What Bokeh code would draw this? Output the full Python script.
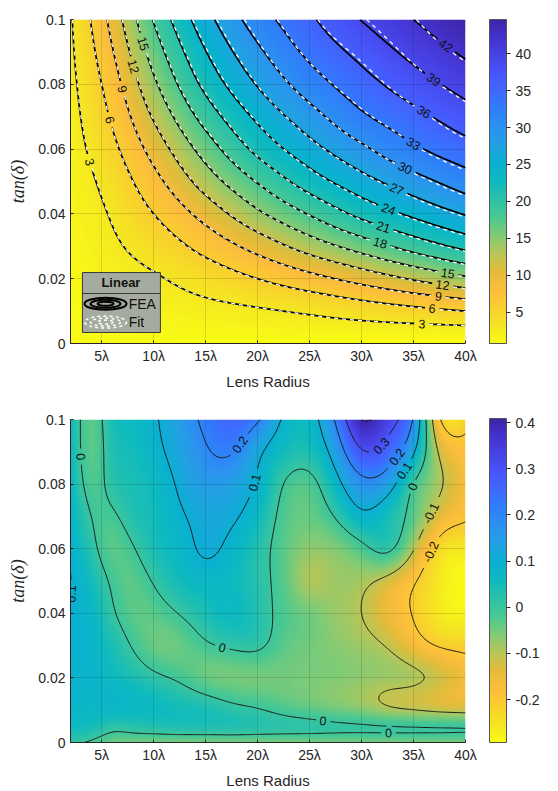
import numpy as np
import contourpy
from bokeh.plotting import figure
from bokeh.models import LinearColorMapper, ColorBar, FixedTicker, Label
from bokeh.layouts import column
from bokeh.embed import file_html
from bokeh.resources import INLINE
from bokeh.core.properties import value

# ---------------- panel (a): beam loss (dB) from FEA ----------------
radius_a = [2, 5, 10, 15, 20, 25, 30, 35, 40]
tan_a = [0.0, 0.005, 0.01, 0.02, 0.03, 0.04, 0.05, 0.06, 0.07, 0.08, 0.09, 0.10]
loss_t000 = [0.8, 0.8, 0.8, 0.8, 0.8, 0.8, 0.8, 0.8, 0.8]
loss_t005 = [0.9, 1.04, 1.28, 1.52, 1.76, 2.0, 2.24, 2.47, 2.71]
loss_t010 = [0.99, 1.28, 1.76, 2.24, 2.71, 3.35, 4.24, 5.12, 6.0]
loss_t020 = [1.18, 1.76, 2.71, 4.24, 6.0, 8.0, 10.1, 12.3, 14.4]
loss_t030 = [1.37, 2.24, 4.24, 7.0, 10.1, 13.35, 16.3, 19.2, 21.8]
loss_t040 = [1.57, 2.71, 6.0, 10.1, 14.4, 18.2, 21.8, 24.6, 27.2]
loss_t050 = [1.76, 3.35, 8.0, 13.35, 18.2, 22.5, 25.9, 28.8, 31.5]
loss_t060 = [1.95, 4.24, 10.1, 16.3, 21.8, 25.9, 29.4, 32.5, 34.8]
loss_t070 = [2.14, 5.12, 12.3, 19.2, 24.6, 28.8, 32.5, 35.1, 37.6]
loss_t080 = [2.33, 6.0, 14.4, 21.8, 27.2, 31.5, 34.8, 37.6, 40.2]
loss_t090 = [2.52, 7.0, 16.3, 23.9, 29.4, 33.7, 36.9, 39.9, 42.5]
loss_t100 = [2.71, 8.0, 18.2, 25.9, 31.5, 35.5, 39.1, 42.0, 44.6]
loss_levels = [3, 6, 9, 12, 15, 18, 21, 24, 27, 30, 33, 36, 39, 42]
loss_range = [0.8, 44.6]
loss_cbar_ticks = [5, 10, 15, 20, 25, 30, 35, 40]

# ---------------- panel (b): residuals (dB), FEA minus fit ----------------
radius_b = [2, 4, 6, 8, 10, 12.5, 15, 17.5, 20, 22.5, 25, 27.5, 30, 32.5, 35, 37.5, 40]
tan_b = [0.0, 0.004, 0.01, 0.02, 0.03, 0.04, 0.05, 0.06, 0.07, 0.08, 0.09, 0.10]
res_t000 = [0.02, -0.01, -0.04, -0.05, -0.05, -0.05, -0.05, -0.05, -0.05, -0.05, -0.05, -0.05, -0.05, -0.05, -0.05, -0.05, -0.05]
res_t004 = [0.05, 0.04, 0.01, 0.015, 0.02, 0.025, 0.025, 0.025, 0.02, 0.015, 0.012, 0.008, 0.006, 0.005, 0.004, 0.003, 0.002]
res_t010 = [0.08, 0.07, 0.07, 0.065, 0.06, 0.05, 0.04, 0.02, 0.005, -0.015, -0.03, -0.045, -0.06, -0.085, -0.098, -0.11, -0.118]
res_t020 = [0.09, 0.08, 0.06, 0.04, 0.015, -0.01, -0.04, -0.05, -0.05, -0.05, -0.055, -0.06, -0.07, -0.08, -0.09, -0.12, -0.16]
res_t030 = [0.097, 0.08, 0.04, -0.005, -0.04, -0.04, -0.01, 0.01, 0.01, -0.03, -0.05, -0.065, -0.08, -0.105, -0.16, -0.205, -0.22]
res_t040 = [0.099, 0.07, 0.01, -0.03, -0.03, 0.003, 0.04, 0.06, 0.03, -0.02, -0.05, -0.075, -0.10, -0.15, -0.205, -0.26, -0.28]
res_t050 = [0.1015, 0.05, -0.01, -0.03, 0.005, 0.05, 0.07, 0.06, 0.025, -0.03, -0.09, -0.08, -0.085, -0.12, -0.19, -0.26, -0.29]
res_t060 = [0.092, 0.02, -0.03, -0.005, 0.04, 0.07, 0.11, 0.08, 0.03, -0.03, -0.07, -0.06, -0.02, 0.012, -0.095, -0.23, -0.26]
res_t070 = [0.08, 0.0, -0.01, 0.03, 0.05, 0.09, 0.12, 0.11, 0.06, -0.02, -0.04, 0.005, 0.08, 0.05, -0.03, -0.14, -0.19]
res_t080 = [0.07, -0.02, 0.02, 0.04, 0.06, 0.11, 0.15, 0.14, 0.09, 0.0, -0.02, 0.07, 0.17, 0.14, 0.0, -0.09, -0.17]
res_t090 = [0.06, -0.03, 0.03, 0.05, 0.08, 0.13, 0.19, 0.205, 0.12, 0.05, 0.04, 0.14, 0.29, 0.26, 0.11, -0.11, -0.18]
res_t100 = [0.06, -0.03, 0.04, 0.06, 0.09, 0.15, 0.22, 0.26, 0.21, 0.09, 0.07, 0.21, 0.40, 0.34, 0.19, -0.19, -0.22]
res_levels = [-0.2, -0.1, 0.0, 0.1, 0.2, 0.3, 0.4]
res_range = [-0.293, 0.409]
res_cbar_ticks = [-0.2, -0.1, 0.0, 0.1, 0.2, 0.3, 0.4]
res_cbar_labels = ["-0.2", "-0.1", "0", "0.1", "0.2", "0.3", "0.4"]

# ---------------- axes ticks ----------------
radius_ticks = [5, 10, 15, 20, 25, 30, 35, 40]
radius_tick_labels = ["5λ", "10λ", "15λ", "20λ", "25λ", "30λ", "35λ", "40λ"]
tan_ticks = [0, 0.02, 0.04, 0.06, 0.08, 0.1]
tan_tick_labels = ["0", "0.02", "0.04", "0.06", "0.08", "0.1"]

# contour label anchors (level, radius, tan)
loss_label_spots = [(3, 3.5, 0.0556), (3, 35.85, 0.0062), (6, 5.37, 0.0688), (6, 36.8, 0.0111),
                    (9, 6.6, 0.0781), (9, 37.4, 0.0145), (12, 7.6, 0.0852), (12, 37.8, 0.0182),
                    (15, 8.7, 0.092), (15, 38.25, 0.0216), (18, 31.8, 0.0309), (21, 32.1, 0.0358),
                    (24, 32.6, 0.0414), (27, 33.5, 0.0481), (30, 34.2, 0.0543), (33, 35.0, 0.0617),
                    (36, 35.9, 0.071), (39, 36.9, 0.0812), (42, 38.25, 0.0926)]
res_label_spots = [(0.0, 3.25, 0.0885), (0.0, 16.6, 0.0292), (0.2, 18.6, 0.0916), (0.1, 19.6, 0.0807),
                   (0.3, 32.0, 0.0916), (0.2, 33.25, 0.0885), (0.1, 34.0, 0.0845), (0.0, 35.0, 0.0792),
                   (-0.1, 35.9, 0.072), (-0.2, 36.6, 0.059), (0.0, 26.3, 0.0059), (0.0, 32.6, 0.0022),
                   (0.1, 2.1, 0.046)]

# parula colour stops (MATLAB)
parula_stops = ["#3e26a8", "#4433ce", "#4744e8", "#4757fa", "#3e6afe", "#2f80fa", "#2b92f0",
                "#21a2e2", "#0ab0d1", "#0dbac0", "#2cc2a8", "#4ac891", "#7fcb76", "#b7c658",
                "#e2bc3a", "#fdbd3c", "#f9cf2f", "#f5e423", "#f9fb15"]


def make_palette(stops, n=256):
    rgb = np.array([[int(s[i:i + 2], 16) for i in (1, 3, 5)] for s in stops], float)
    pos = np.linspace(0, 1, len(stops))
    q = np.linspace(0, 1, n)
    out = np.stack([np.interp(q, pos, rgb[:, k]) for k in range(3)], axis=1)
    return ["#%02x%02x%02x" % tuple(int(round(v)) for v in c) for c in out]


palette_rev = make_palette(parula_stops)[::-1]


def pchip(xk, yk, xq):
    xk = np.asarray(xk, float); yk = np.asarray(yk, float)
    h = np.diff(xk); d = np.diff(yk) / h
    n = len(xk); m = np.zeros(n)
    for i in range(1, n - 1):
        if d[i - 1] * d[i] > 0:
            w1 = 2 * h[i] + h[i - 1]; w2 = h[i] + 2 * h[i - 1]
            m[i] = (w1 + w2) / (w1 / d[i - 1] + w2 / d[i])

    def ends(h0, h1, d0, d1):
        s = ((2 * h0 + h1) * d0 - h0 * d1) / (h0 + h1)
        if np.sign(s) != np.sign(d0):
            s = 0.0
        elif np.sign(d0) != np.sign(d1) and abs(s) > abs(3 * d0):
            s = 3 * d0
        return s
    m[0] = ends(h[0], h[1], d[0], d[1]); m[-1] = ends(h[-1], h[-2], d[-1], d[-2])
    idx = np.clip(np.searchsorted(xk, xq, side="right") - 1, 0, n - 2)
    s = (xq - xk[idx]) / h[idx]; hh = h[idx]
    return ((2 * s**3 - 3 * s**2 + 1) * yk[idx] + (s**3 - 2 * s**2 + s) * hh * m[idx]
            + (-2 * s**3 + 3 * s**2) * yk[idx + 1] + (s**3 - s**2) * hh * m[idx + 1])


def spline_matrix(xk, xq):
    xk = np.asarray(xk, float); n = len(xk); h = np.diff(xk)
    A = np.zeros((n - 2, n - 2)); D = np.zeros((n - 2, n))
    for i in range(1, n - 1):
        r = i - 1
        if r > 0:
            A[r, r - 1] = h[i - 1]
        A[r, r] = 2 * (h[i - 1] + h[i])
        if r < n - 3:
            A[r, r + 1] = h[i]
        D[r, i - 1] = 6 / h[i - 1]; D[r, i] = -6 / h[i - 1] - 6 / h[i]; D[r, i + 1] = 6 / h[i]
    M = np.zeros((n, n)); M[1:-1] = np.linalg.solve(A, D)
    idx = np.clip(np.searchsorted(xk, xq, side="right") - 1, 0, n - 2)
    s = (xq - xk[idx]) / h[idx]; hi = h[idx]
    W = np.zeros((len(xq), n)); rows = np.arange(len(xq))
    W[rows, idx] += 1 - s; W[rows, idx + 1] += s
    c0 = hi**2 / 6 * ((1 - s)**3 - (1 - s)); c1 = hi**2 / 6 * (s**3 - s)
    W += c0[:, None] * M[idx] + c1[:, None] * M[idx + 1]
    return W


# ---------------- smooth rendering grids ----------------
xf = np.linspace(2, 40, 381)
yf = np.linspace(0, 0.1, 201)
LOSS = np.array([loss_t000, loss_t005, loss_t010, loss_t020, loss_t030, loss_t040, loss_t050,
                 loss_t060, loss_t070, loss_t080, loss_t090, loss_t100])
RES = np.array([res_t000, res_t004, res_t010, res_t020, res_t030, res_t040, res_t050,
                res_t060, res_t070, res_t080, res_t090, res_t100])
tmp = np.array([pchip(radius_a, row, xf) for row in LOSS])
fea_f = np.array([pchip(tan_a, tmp[:, j], yf) for j in range(len(xf))]).T
res_f = spline_matrix(tan_b, yf) @ RES @ spline_matrix(radius_b, xf).T
fit_f = fea_f - res_f

SX = 395 / 38.0      # px per radius unit
SY_A = 324 / 0.1     # px per tan unit (top)
SY_B = 323 / 0.1     # px per tan unit (bottom)
TXT = "#262626"
SANS = "Liberation Sans"


def contour_lines(z, levels):
    cg = contourpy.contour_generator(xf, yf, z)
    return {i: [np.asarray(a) for a in cg.lines(lev) if len(a) > 1] for i, lev in enumerate(levels)}


def find_labels(lines, levels, spots, sy, fmt):
    labels, cuts = [], []
    for lev, x0, y0 in spots:
        k = levels.index(lev)
        best = None
        for arr in lines.get(k, []):
            d = ((arr[:, 0] - x0) * SX) ** 2 + ((arr[:, 1] - y0) * sy) ** 2
            i = int(np.argmin(d))
            if best is None or d[i] < best[0]:
                best = (d[i], arr, i)
        if best is None or best[0] > 40 ** 2:
            continue
        _, arr, i = best
        j0, j1 = max(i - 5, 0), min(i + 5, len(arr) - 1)
        ang = np.arctan2((arr[j1, 1] - arr[j0, 1]) * sy, (arr[j1, 0] - arr[j0, 0]) * SX)
        if ang > np.pi / 2:
            ang -= np.pi
        if ang <= -np.pi / 2:
            ang += np.pi
        txt = fmt(lev)
        labels.append((arr[i, 0], arr[i, 1], ang, txt))
        cuts.append((arr[i, 0], arr[i, 1], 3.4 * len(txt) + 3.5))
    return labels, cuts


def cut_lines(lines, cuts, sy):
    xs, ys = [], []
    for k in lines:
        for arr in lines[k]:
            keep = np.ones(len(arr), bool)
            for cx, cy, r in cuts:
                keep &= np.hypot((arr[:, 0] - cx) * SX, (arr[:, 1] - cy) * sy) > r
            start = None
            for i, ok in enumerate(list(keep) + [False]):
                if ok and start is None:
                    start = i
                elif not ok and start is not None:
                    if i - start > 1:
                        xs.append(list(arr[start:i, 0])); ys.append(list(arr[start:i, 1]))
                    start = None
    return xs, ys


def base_fig(height, top, bottom):
    p = figure(width=558, height=height, x_range=(2, 40), y_range=(0, 0.1),
               output_backend="svg", toolbar_location=None,
               min_border_left=70, min_border_right=93, min_border_top=top, min_border_bottom=bottom)
    p.outline_line_color = None
    p.background_fill_color = "white"
    p.border_fill_color = "white"
    p.xaxis.ticker = FixedTicker(ticks=radius_ticks)
    p.xaxis.major_label_overrides = {t: l for t, l in zip(radius_ticks, radius_tick_labels)}
    p.yaxis.ticker = FixedTicker(ticks=tan_ticks)
    p.yaxis.major_label_overrides = {t: l for t, l in zip(tan_ticks, tan_tick_labels)}
    for ax in (p.xaxis, p.yaxis):
        ax.axis_line_color = TXT
        ax.major_tick_line_color = TXT
        ax.major_tick_in = 3
        ax.major_tick_out = 0
        ax.minor_tick_line_color = None
        ax.major_label_text_font = SANS
        ax.major_label_text_font_size = "14px"
        ax.major_label_text_color = TXT
        ax.axis_label_text_color = TXT
    p.xaxis.axis_label = "Lens Radius"
    p.xaxis.axis_label_text_font = SANS
    p.xaxis.axis_label_text_font_size = "15px"
    p.xaxis.axis_label_text_font_style = "normal"
    p.xaxis.axis_label_standoff = 6
    p.xaxis.major_label_standoff = 4
    p.yaxis.axis_label = "tan(δ)"
    p.yaxis.axis_label_text_font = "Liberation Serif"
    p.yaxis.axis_label_text_font_size = "18px"
    p.yaxis.axis_label_text_font_style = "italic"
    p.yaxis.axis_label_standoff = 7
    p.yaxis.major_label_standoff = 5
    p.grid.grid_line_color = "black"
    p.grid.grid_line_alpha = 0.13
    return p


def add_colorbar(p, mapper, ticks, overrides, title, ymid):
    cb = ColorBar(color_mapper=mapper, ticker=FixedTicker(ticks=ticks), width=17, height=324,
                  padding=0, margin=0, location=(24, 0), bar_line_color="#555555",
                  major_tick_line_color=TXT, major_tick_in=0, major_tick_out=4,
                  major_label_text_font=SANS, major_label_text_font_size="14px",
                  major_label_text_color=TXT, label_standoff=5, background_fill_color=None)
    if overrides:
        cb.major_label_overrides = overrides
    p.add_layout(cb, "right")
    p.add_layout(Label(x=47.2, y=ymid, text=title, angle=np.pi / 2, text_align="center",
                       text_baseline="middle", text_font=SANS, text_font_size="15px", text_color=TXT))


def draw_labels(p, labels, size="12.5px"):
    if not labels:
        return
    p.text(x=[l[0] for l in labels], y=[l[1] for l in labels], angle=[l[2] for l in labels],
           text=[l[3] for l in labels], text_align="center", text_baseline="middle",
           text_font=value(SANS), text_font_size=size, text_color="#111111")


# ================= panel (a) =================
p1 = base_fig(395, 19, 52)
map_a = LinearColorMapper(palette=palette_rev, low=loss_range[0], high=loss_range[1])
p1.image(image=[fea_f], x=2, y=0, dw=38, dh=0.1, color_mapper=map_a, level="image")
fea_lines = contour_lines(fea_f, loss_levels)
fit_lines = contour_lines(fit_f, loss_levels)
lab_a, cut_a = find_labels(fea_lines, loss_levels, loss_label_spots, SY_A, lambda v: "%d" % v)
xs, ys = cut_lines(fea_lines, cut_a, SY_A)
p1.multi_line(xs, ys, line_color="black", line_width=1.7)
xs, ys = cut_lines(fit_lines, cut_a, SY_A)
p1.multi_line(xs, ys, line_color="white", line_width=1.3, line_dash="4 4")
draw_labels(p1, lab_a)
add_colorbar(p1, map_a, loss_cbar_ticks, None, "Beam Loss (dB)", 0.05)
p1.add_layout(Label(x=20.9, y=0.1032, text="(a)", text_align="center", text_baseline="middle",
                    text_font="Liberation Serif", text_font_style="bold", text_font_size="14px",
                    text_color="black"))

# legend box
p1.quad(left=[3.15], right=[10.65], bottom=[0.0034], top=[0.0219], fill_color="#a5ab9f",
        line_color="#3a3a3a", line_width=1)
p1.line(x=[3.15, 10.65], y=[0.01543, 0.01543], line_color="#3a3a3a", line_width=1)
p1.text(x=[6.85], y=[0.01875], text=["Linear"], text_align="center", text_baseline="middle",
        text_font=value(SANS), text_font_style="bold", text_font_size="13px", text_color="#111111")
ell_w = [42, 30, 16]
ell_h = [12, 8, 4]
p1.ellipse(x=[5.37] * 3, y=[0.01225] * 3, width=ell_w, height=ell_h, width_units="screen",
           height_units="screen", fill_color=None, line_color="black", line_width=2)
p1.ellipse(x=[5.37] * 3, y=[0.0066] * 3, width=ell_w, height=ell_h, width_units="screen",
           height_units="screen", fill_color=None, line_color="white", line_width=1.5,
           line_dash="3 3")
p1.text(x=[7.6, 7.6], y=[0.0122, 0.0066], text=["FEA", "Fit"], text_align="left",
        text_baseline="middle", text_font=value(SANS), text_font_size="14px", text_color="#111111")

# ================= panel (b) =================
p2 = base_fig(396, 24, 49)
map_b = LinearColorMapper(palette=palette_rev, low=res_range[0], high=res_range[1])
p2.image(image=[res_f], x=2, y=0, dw=38, dh=0.1, color_mapper=map_b, level="image")
res_lines = contour_lines(res_f, res_levels)
fmt_b = lambda v: ("%g" % v) if abs(v) > 1e-9 else "0"
lab_b, cut_b = find_labels(res_lines, res_levels, res_label_spots, SY_B, fmt_b)
xs, ys = cut_lines(res_lines, cut_b, SY_B)
p2.multi_line(xs, ys, line_color="#1a1a1a", line_width=1.0)
draw_labels(p2, lab_b)
add_colorbar(p2, map_b, res_cbar_ticks, {t: l for t, l in zip(res_cbar_ticks, res_cbar_labels)},
             "Residuals (dB)", 0.05)
p2.add_layout(Label(x=20.9, y=0.1034, text="(b)", text_align="center", text_baseline="middle",
                    text_font="Liberation Serif", text_font_style="bold", text_font_size="14px",
                    text_color="black"))

layout = column(p1, p2, spacing=0)
open("out.html", "w").write(file_html(layout, INLINE))
